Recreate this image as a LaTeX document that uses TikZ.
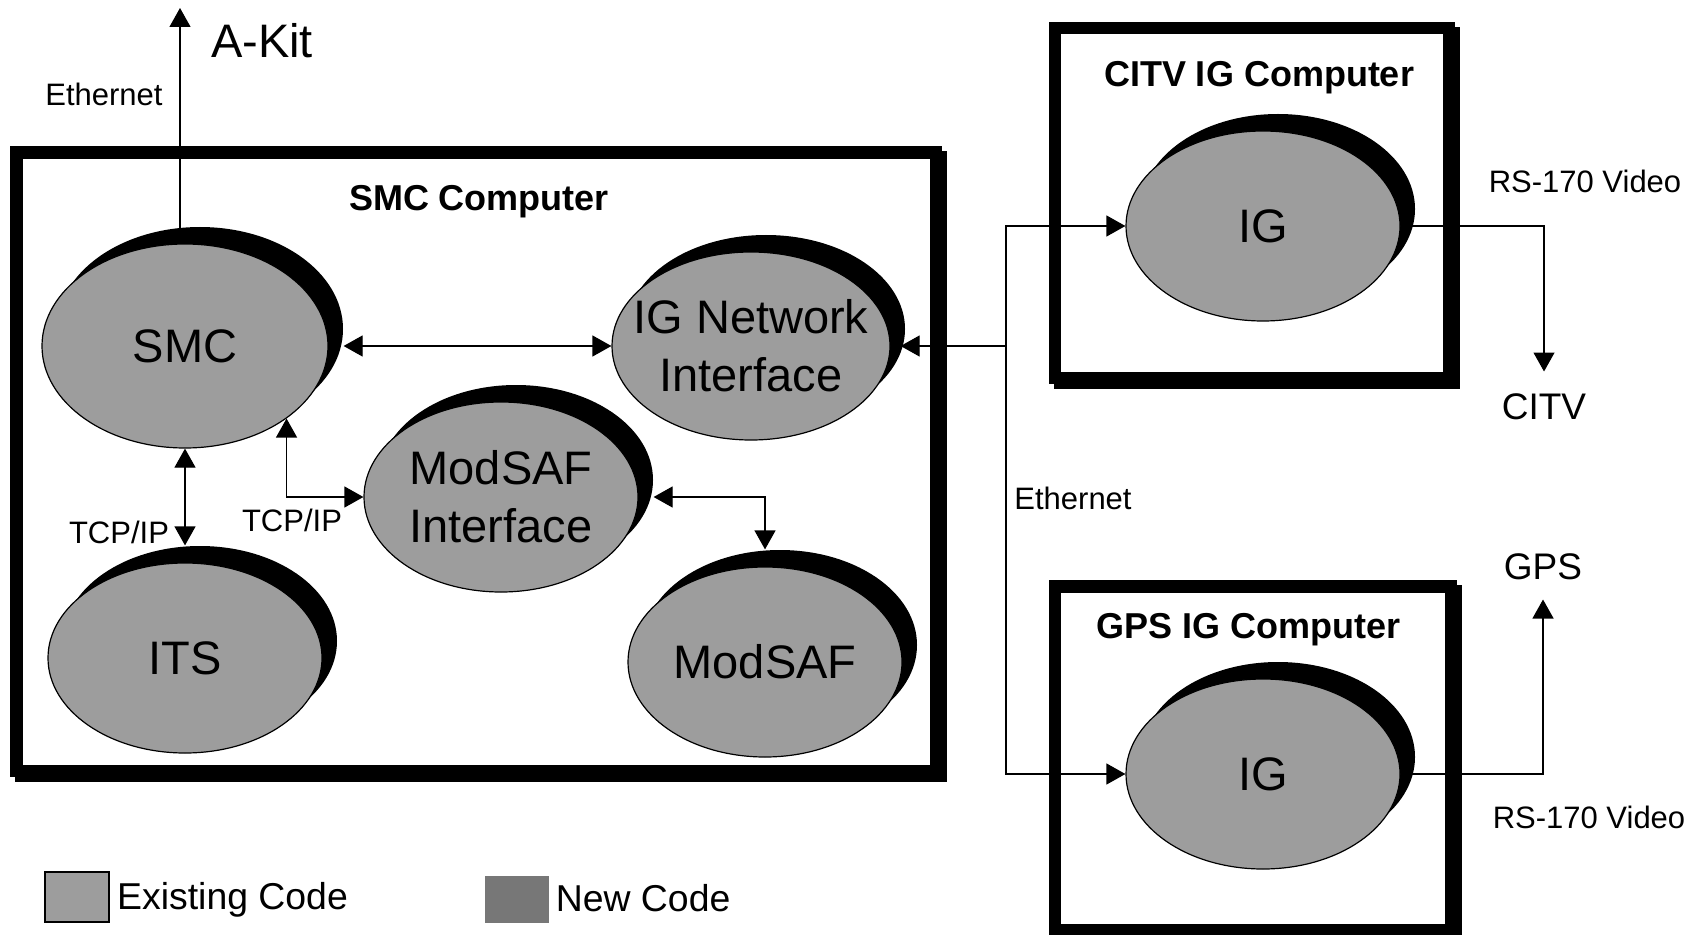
\documentclass[tikz,border=0pt]{standalone}
\usepackage{fontspec}
\setmainfont{Liberation Sans}
\usepackage{tikz}
\usetikzlibrary{shapes,arrows.meta,positioning,calc,shadows}

\definecolor{oldcode}{RGB}{157,157,157}
\definecolor{newcode}{RGB}{119,119,119}

\begin{document}
\begin{tikzpicture}[x=0.5pt,y=-0.5pt,
    compbox/.style={line width=6.25pt},
    proc/.style={ellipse, draw, line width=0.6pt, fill=oldcode, minimum width=137pt, minimum height=95pt, inner sep=0pt,
        drop shadow={fill=black, opacity=1, shadow xshift=7.5pt, shadow yshift=8.5pt}},
    proclbl/.style={font=\fontsize{23.5pt}{29pt}\selectfont, align=center, inner sep=0pt},
    netlbl/.style={font=\fontsize{15.5pt}{18pt}\selectfont, inner sep=0pt},
    boxtitle/.style={font=\fontsize{18pt}{21pt}\selectfont\bfseries, inner sep=0pt},
    endlbl/.style={font=\fontsize{18.5pt}{22pt}\selectfont, inner sep=0pt},
    keylbl/.style={font=\fontsize{18.7pt}{22pt}\selectfont, inner sep=0pt},
    link/.style={line width=0.6pt, -{Triangle[length=9.5pt,width=10.5pt]}},
    dbl/.style={line width=0.6pt, {Triangle[length=9.5pt,width=10.5pt]}-{Triangle[length=9.5pt,width=10.5pt]}},
    swatch/.style={minimum width=32pt, minimum height=25pt, inner sep=0pt}]
\useasboundingbox (0,0) rectangle (1700,935);

\draw[compbox] (21.5,157.5) rectangle (941,776);
\draw[compbox, fill=white] (16.5,152.5) rectangle (936,771);
\draw[compbox] (1060,33) rectangle (1454,383);
\draw[compbox, fill=white] (1055,28) rectangle (1449,378);
\draw[compbox] (1060,591.5) rectangle (1456,935);
\draw[compbox, fill=white] (1055,586.5) rectangle (1451,930);

\node[boxtitle] (smcbox) at (479,202) {SMC Computer};
\node[boxtitle] (citvbox) at (1259,78) {CITV IG Computer};
\node[boxtitle] (gpsbox) at (1248,630) {GPS IG Computer};

\node[proc, minimum width=143pt, minimum height=102pt, label={[proclbl]center:SMC}] (smc) at (185,346) {};
\node[proc, label={[proclbl]center:ITS}] (its) at (185,658) {};
\node[proc, label={[proclbl]center:ModSAF\\Interface}] (msi) at (501,497) {};
\node[proc, minimum width=139pt, minimum height=94pt, label={[proclbl]center:IG Network\\Interface}] (igni) at (751,346) {};
\node[proc, label={[proclbl]center:ModSAF}] (modsaf) at (765,662) {};
\node[proc, label={[proclbl]center:IG}] (citvig) at (1263,226) {};
\node[proc, label={[proclbl]center:IG}] (gpsig) at (1263,774) {};

\node[font=\fontsize{23.5pt}{27pt}\selectfont, inner sep=0pt] (akitlbl) at (262,41) {A-Kit};
\node[endlbl] (citv) at (1544,407) {CITV};
\node[endlbl] (gps) at (1543,567) {GPS};
\node[netlbl] (eth1) at (104,94) {Ethernet};
\node[netlbl] (eth2) at (1073,498) {Ethernet};
\node[netlbl] (tcp1) at (119,532) {TCP/IP};
\node[netlbl] (tcp2) at (292,520) {TCP/IP};
\node[netlbl] (rs1) at (1585,181) {RS-170 Video};
\node[netlbl] (rs2) at (1589,817) {RS-170 Video};

\coordinate (akit) at (180,8);
\coordinate (bus) at (1006,346);
\draw[link] (akit |- smc.north) -- (akit);
\draw[dbl] ([xshift=7.5pt]smc.east) -- (igni.west);
\draw[dbl] (smc.south) -- ([yshift=8.5pt]its.north);
\draw[dbl] (smc.south east) |- (msi.west);
\draw[dbl] ([xshift=7.5pt]msi.east) -| ([yshift=8.5pt]modsaf.north);
\draw[link] (bus) -- ([xshift=5pt]igni.east);
\draw[link] (bus) |- (citvig.west);
\draw[link] (bus) |- (gpsig.west);
\draw[link] (citvig.east) -| ([yshift=11pt]citv.north);
\draw[link] (gpsig.east) -| ([yshift=-9.5pt]gps.south);

\node[swatch, draw, line width=0.75pt, fill=oldcode] (oldkey) at (77,897) {};
\node[keylbl, right=3.5pt of oldkey, yshift=-1.5pt] (oldtxt) {Existing Code};
\node[swatch, fill=newcode, minimum height=23.5pt] (newkey) at (517,899.5) {};
\node[keylbl, right=3pt of newkey, yshift=0.5pt] (newtxt) {New Code};
\end{tikzpicture}
\end{document}
